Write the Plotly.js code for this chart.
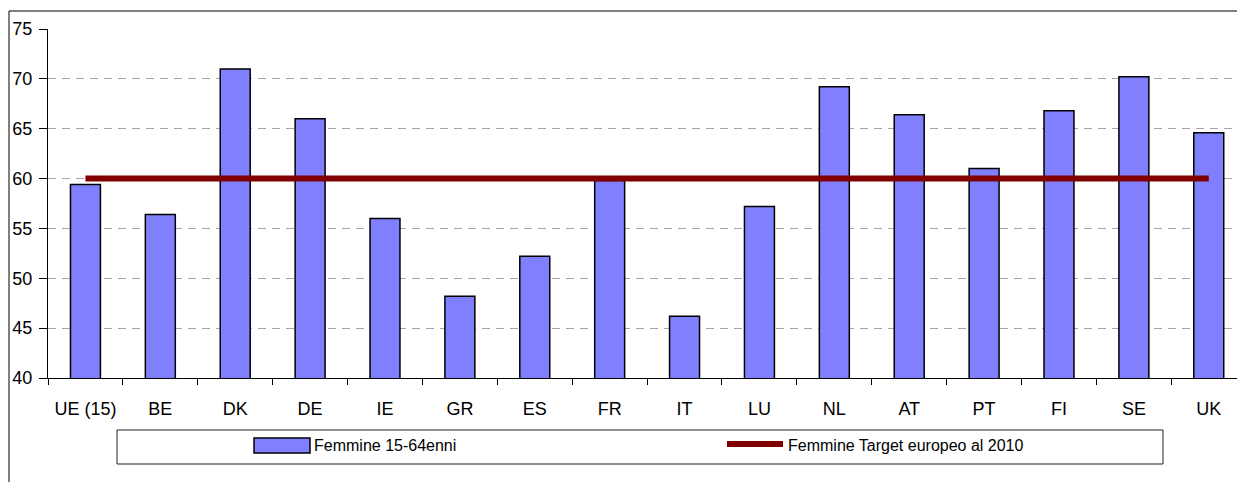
<!DOCTYPE html>
<html>
<head>
<meta charset="utf-8">
<script src="https://cdn.plot.ly/plotly-3.0.1.min.js"></script>
<style>html,body{margin:0;padding:0;background:#fff;overflow:hidden;}#chart{width:1237px;height:482px;}</style>
</head>
<body>
<div id="chart"></div>
<script>
const categories = ["UE (15)", "BE", "DK", "DE", "IE", "GR", "ES", "FR", "IT", "LU", "NL", "AT", "PT", "FI", "SE", "UK"];
const femmine = [59.4, 56.4, 71.0, 66.0, 56.0, 48.2, 52.2, 59.8, 46.2, 57.2, 69.2, 66.4, 61.0, 66.8, 70.2, 64.6];
const target = [60, 60, 60, 60, 60, 60, 60, 60, 60, 60, 60, 60, 60, 60, 60, 60];
const seriesNames = ["Femmine 15-64enni", "Femmine Target europeo al 2010"];
const yTicks = [40, 45, 50, 55, 60, 65, 70, 75];

const W = 1237, H = 482;
const ML = 48, MR = 0, MT = 29, MB = 104;
const PW = W - ML - MR, PH = H - MT - MB;
const px = v => (v - ML) / PW;
const py = v => (H - MB - v) / PH;

const font = "'Liberation Sans', Arial, sans-serif";

const traces = [
  {
    type: "bar",
    x: categories,
    y: femmine,
    name: seriesNames[0],
    marker: { color: "#8080FF", line: { color: "#000000", width: 1.5 } },
    showlegend: false
  },
  {
    type: "scatter",
    mode: "lines",
    x: categories,
    y: target,
    name: seriesNames[1],
    line: { color: "#800000", width: 6 },
    showlegend: false
  }
];

const shapes = [
  { type: "rect", xref: "paper", yref: "paper", x0: px(9), x1: px(1260), y0: py(500), y1: py(11),
    line: { color: "#000000", width: 1 }, fillcolor: "rgba(0,0,0,0)", layer: "below" },
  { type: "rect", xref: "paper", yref: "paper", x0: px(117), x1: px(1163), y0: py(464), y1: py(430),
    line: { color: "#222222", width: 1 }, fillcolor: "rgba(0,0,0,0)" },
  { type: "rect", xref: "paper", yref: "paper", x0: px(254), x1: px(310), y0: py(453), y1: py(438),
    line: { color: "#000000", width: 1.5 }, fillcolor: "#8080FF" },
  { type: "line", xref: "paper", yref: "paper", x0: px(727), x1: px(783), y0: py(444), y1: py(444),
    line: { color: "#800000", width: 6 } }
];

const annotations = [
  { xref: "paper", yref: "paper", x: px(312), y: py(445), xanchor: "left", yanchor: "middle",
    text: seriesNames[0], showarrow: false, font: { family: font, size: 16, color: "#000" } },
  { xref: "paper", yref: "paper", x: px(786), y: py(445), xanchor: "left", yanchor: "middle",
    text: seriesNames[1], showarrow: false, font: { family: font, size: 16, color: "#000" } }
];

const layout = {
  width: W, height: H,
  margin: { l: ML, r: MR, t: MT, b: MB, pad: 0 },
  paper_bgcolor: "#ffffff",
  plot_bgcolor: "#ffffff",
  bargap: 0.6,
  showlegend: false,
  font: { family: font, size: 18, color: "#000" },
  xaxis: {
    type: "category",
    range: [-0.5, 15.377],
    tickson: "boundaries",
    ticks: "outside",
    ticklen: 6,
    tickcolor: "#000",
    ticklabelstandoff: 14,
    showline: true,
    linecolor: "#000",
    linewidth: 1,
    showgrid: false,
    zeroline: false,
    tickfont: { family: font, size: 18, color: "#000" },
    fixedrange: true
  },
  yaxis: {
    range: [40, 75],
    tickvals: yTicks,
    ticks: "outside",
    ticklen: 8,
    tickcolor: "#000",
    ticklabelstandoff: 3,
    showline: true,
    linecolor: "#000",
    linewidth: 1,
    showgrid: true,
    gridcolor: "#A8A8A8",
    gridwidth: 1,
    griddash: "8px,6px",
    zeroline: false,
    tickfont: { family: font, size: 18, color: "#000" },
    fixedrange: true
  },
  shapes: shapes,
  annotations: annotations
};

Plotly.newPlot("chart", traces, layout, { staticPlot: true, displayModeBar: false });
</script>
</body>
</html>
